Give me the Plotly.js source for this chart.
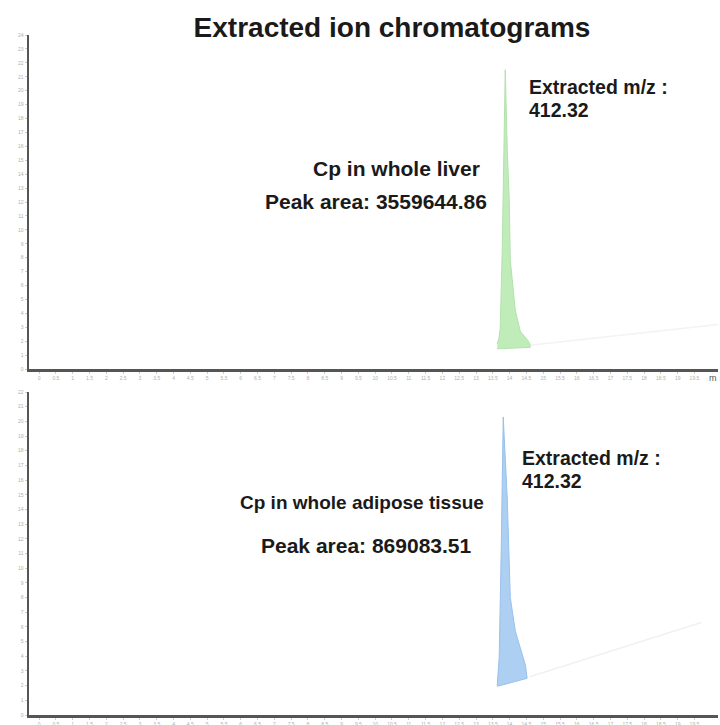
<!DOCTYPE html>
<html>
<head>
<meta charset="utf-8">
<script src="https://cdn.plot.ly/plotly-3.0.1.min.js"></script>
<style>html,body{margin:0;padding:0;background:#fff;}#chart{width:720px;height:725px;}</style>
</head>
<body>
<div id="chart"></div>
<script>
// Liver peak outline (time, intensity) and its baseline
const liverTime = [13.63, 13.68, 13.72, 13.78, 13.83, 13.87, 13.93, 13.99, 14.02, 14.17, 14.32, 14.56, 14.61];
const liverIntensity = [1.8, 2.2, 2.9, 8.5, 15.7, 21.5, 15.7, 12.1, 7.8, 4.2, 2.7, 2.0, 1.75];
const liverBaseTime = [14.61, 13.63];
const liverBaseIntensity = [1.55, 1.45];
const liverDriftTime = [14.6, 20.2];
const liverDriftIntensity = [1.7, 3.2];

// Adipose peak outline and its baseline
const adiposeTime = [13.63, 13.69, 13.75, 13.78, 13.81, 13.87, 13.93, 14.02, 14.17, 14.47, 14.52];
const adiposeIntensity = [2.0, 3.9, 11.3, 16.7, 20.3, 17.5, 14.7, 8.0, 5.7, 3.4, 2.7];
const adiposeBaseTime = [14.52, 13.63];
const adiposeBaseIntensity = [2.5, 1.95];
const adiposeDriftTime = [14.6, 19.7];
const adiposeDriftIntensity = [2.6, 6.3];

// Time tick values (min)
const timeTicks = [0,0.5,1,1.5,2,2.5,3,3.5,4,4.5,5,5.5,6,6.5,7,7.5,8,8.5,9,9.5,10,10.5,11,11.5,12,12.5,13,13.5,14,14.5,15,15.5,16,16.5,17,17.5,18,18.5,19,19.5];

const panelLabels = ["Cp in whole liver", "Cp in whole adipose tissue"];
const areaLabels = ["Peak area: 3559644.86", "Peak area: 869083.51"];
const mzLabel = "Extracted m/z :";
const mzValue = "412.32";

function px(x){return x/720;}
function py(y){return 1 - y/725;}

const traces = [
  {x: liverDriftTime, y: liverDriftIntensity, xaxis:'x', yaxis:'y', mode:'lines', line:{color:'#f3f3f3', width:1.5}, hoverinfo:'skip'},
  {x: liverTime.concat(liverBaseTime), y: liverIntensity.concat(liverBaseIntensity), xaxis:'x', yaxis:'y',
   mode:'lines', fill:'toself', fillcolor:'rgb(192,236,186)', line:{color:'rgb(178,226,172)', width:1}},
  {x: adiposeDriftTime, y: adiposeDriftIntensity, xaxis:'x2', yaxis:'y2', mode:'lines', line:{color:'#f1f1f1', width:1.5}, hoverinfo:'skip'},
  {x: adiposeTime.concat(adiposeBaseTime), y: adiposeIntensity.concat(adiposeBaseIntensity), xaxis:'x2', yaxis:'y2',
   mode:'lines', fill:'toself', fillcolor:'rgb(172,207,242)', line:{color:'rgb(152,193,236)', width:1}}
];

const tickFont = {family:'Liberation Sans, Arial, sans-serif', size:5, color:'#b0b0b0'};
const xCommon = {range:[-0.3, 20.2], tickmode:'array', tickvals:timeTicks, showgrid:false, zeroline:false, showline:true,
  linecolor:'#555', linewidth:2.5, ticks:'outside', ticklen:2, tickcolor:'#ccc', tickfont:tickFont};
const yCommon = {dtick:1, showgrid:false, zeroline:false, showline:true,
  linecolor:'#555', linewidth:2.5, ticks:'outside', ticklen:2, tickcolor:'#ccc', tickfont:tickFont};

const bold = {family:'Liberation Sans, Arial, sans-serif', color:'#1a1a1a'};
function ann(text, x, y, size, anchor){
  return {text:'<b>'+text+'</b>', xref:'paper', yref:'paper', x:px(x), y:py(y), xanchor:anchor, yanchor:'middle',
    showarrow:false, font:Object.assign({size:size}, bold)};
}

const layout = {
  width:720, height:725, margin:{l:0, r:0, t:0, b:0}, paper_bgcolor:'#fff', plot_bgcolor:'#fff', showlegend:false,
  title:{text:'<b>Extracted ion chromatograms</b>', x:px(392), xanchor:'center', y:py(27), yanchor:'middle',
    font:{family:'Liberation Sans, Arial, sans-serif', size:28, color:'#1a1a1a'}},
  xaxis:Object.assign({domain:[px(29), px(718)], anchor:'y'}, xCommon),
  yaxis:Object.assign({domain:[py(369), py(35)], range:[0, 24], anchor:'x'}, yCommon),
  xaxis2:Object.assign({domain:[px(29), px(718)], anchor:'y2'}, xCommon),
  yaxis2:Object.assign({domain:[py(715), py(392)], range:[0, 22], anchor:'x2'}, yCommon),
  annotations:[
    ann(mzLabel, 527, 87, 19.5, 'left'),
    ann(mzValue, 527, 110, 19.5, 'left'),
    ann(panelLabels[0], 396, 168, 21, 'center'),
    ann(areaLabels[0], 376, 202, 21, 'center'),
    ann(mzLabel, 520, 458, 19.5, 'left'),
    ann(mzValue, 520, 481, 19.5, 'left'),
    ann(panelLabels[1], 362, 502, 19, 'center'),
    ann(areaLabels[1], 366, 545, 21, 'center'),
    {text:'m', xref:'paper', yref:'paper', x:px(719), y:py(378), xanchor:'right', yanchor:'middle', showarrow:false,
     font:{family:'Liberation Sans, Arial, sans-serif', size:9, color:'#555'}}
  ]
};

Plotly.newPlot('chart', traces, layout, {displayModeBar:false, staticPlot:true});
</script>
</body>
</html>
